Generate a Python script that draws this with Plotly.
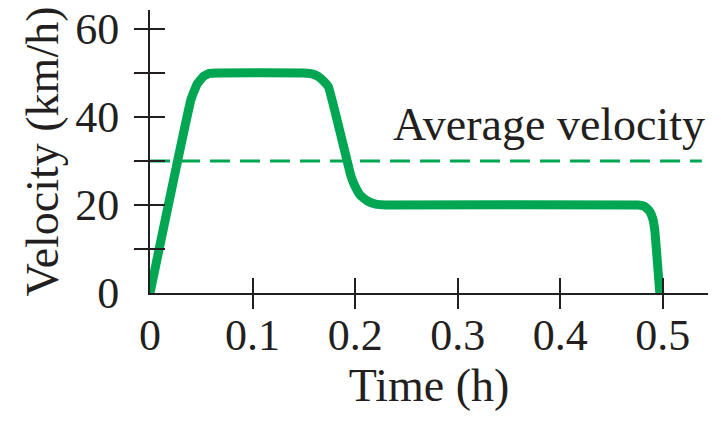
import plotly.graph_objects as go

# Data
time_h = [0, 0.040, 0.046, 0.052, 0.058, 0.066, 0.150, 0.158, 0.164, 0.169, 0.174,
          0.196, 0.200, 0.205, 0.212, 0.220, 0.230, 0.476, 0.482, 0.487, 0.490, 0.492, 0.497]
velocity = [0, 44, 47.5, 49.2, 49.9, 50, 50, 49.8, 49.2, 48.2, 46.8,
            26.5, 24.2, 22.2, 20.9, 20.2, 20, 20, 19.7, 18.6, 17, 14.5, 0]
avg_time = [0, 0.538]
avg_velocity = [30, 30]
avg_label = "Average velocity"

x_label_vals = [0, 0.1, 0.2, 0.3, 0.4, 0.5]
x_label_text = ["0", "0.1", "0.2", "0.3", "0.4", "0.5"]
x_tick_vals = [0.1, 0.2, 0.3, 0.4, 0.5]
y_label_vals = [0, 20, 40, 60]
y_label_text = ["0", "20", "40", "60"]
y_tick_vals = [10, 20, 30, 40, 50, 60]

GREEN = "#00a651"
INK = "#231f20"
FONT = "Liberation Serif"
XR = [0, 0.544]
YR = [0, 64.3]

fig = go.Figure()
fig.add_trace(go.Scatter(x=avg_time, y=avg_velocity, mode="lines",
                         line=dict(color=GREEN, width=3, dash="20px,10px"),
                         hoverinfo="skip", showlegend=False))
fig.add_trace(go.Scatter(x=time_h, y=velocity, mode="lines",
                         line=dict(color=GREEN, width=9, shape="spline", smoothing=0.3),
                         showlegend=False))
# invisible traces so the tick-only overlay axes are drawn
for xa, ya in (("x2", "y2"), ("x3", "y3")):
    fig.add_trace(go.Scatter(x=avg_time, y=avg_velocity, xaxis=xa, yaxis=ya, mode="lines",
                             line=dict(width=0, color="rgba(0,0,0,0)"),
                             hoverinfo="skip", showlegend=False))

fig.add_annotation(x=0.543, y=38.3, text=avg_label, showarrow=False,
                   xanchor="right", yanchor="middle",
                   font=dict(family=FONT, size=46, color=INK))

tick_common = dict(showgrid=False, zeroline=False, showticklabels=False,
                   showline=False, ticklen=15, tickwidth=2, tickcolor=INK,
                   automargin=False)

fig.update_layout(
    width=713, height=413,
    margin=dict(l=142, r=13, t=2, b=128),
    paper_bgcolor="white", plot_bgcolor="white",
    font=dict(family=FONT, size=44, color=INK),
    xaxis=dict(range=XR, tickmode="array", tickvals=x_label_vals, ticktext=x_label_text,
               ticks="", showgrid=False, zeroline=False, showline=True, automargin=False,
               linecolor=INK, linewidth=2, ticklabelstandoff=2, ticklabeloverflow="allow",
               tickfont=dict(family=FONT, size=44, color=INK),
               title=dict(text="Time (h)", standoff=9,
                          font=dict(family=FONT, size=46, color=INK))),
    xaxis2=dict(range=XR, overlaying="x", anchor="y", tickmode="array",
                tickvals=x_tick_vals, ticks="outside", **tick_common),
    xaxis3=dict(range=XR, overlaying="x", anchor="y", tickmode="array",
                tickvals=x_tick_vals, ticks="inside", **tick_common),
    yaxis=dict(range=YR, tickmode="array", tickvals=y_label_vals, ticktext=y_label_text,
               ticks="", showgrid=False, zeroline=False, showline=True, automargin=False,
               linecolor=INK, linewidth=2, ticklabelstandoff=20, ticklabeloverflow="allow",
               tickfont=dict(family=FONT, size=44, color=INK),
               title=dict(text="Velocity (km/h)", standoff=2,
                          font=dict(family=FONT, size=46, color=INK))),
    yaxis2=dict(range=YR, overlaying="y", anchor="x", tickmode="array",
                tickvals=y_tick_vals, ticks="outside", **tick_common),
    yaxis3=dict(range=YR, overlaying="y", anchor="x", tickmode="array",
                tickvals=y_tick_vals, ticks="inside", **tick_common),
)

fig.write_html("out.html")
